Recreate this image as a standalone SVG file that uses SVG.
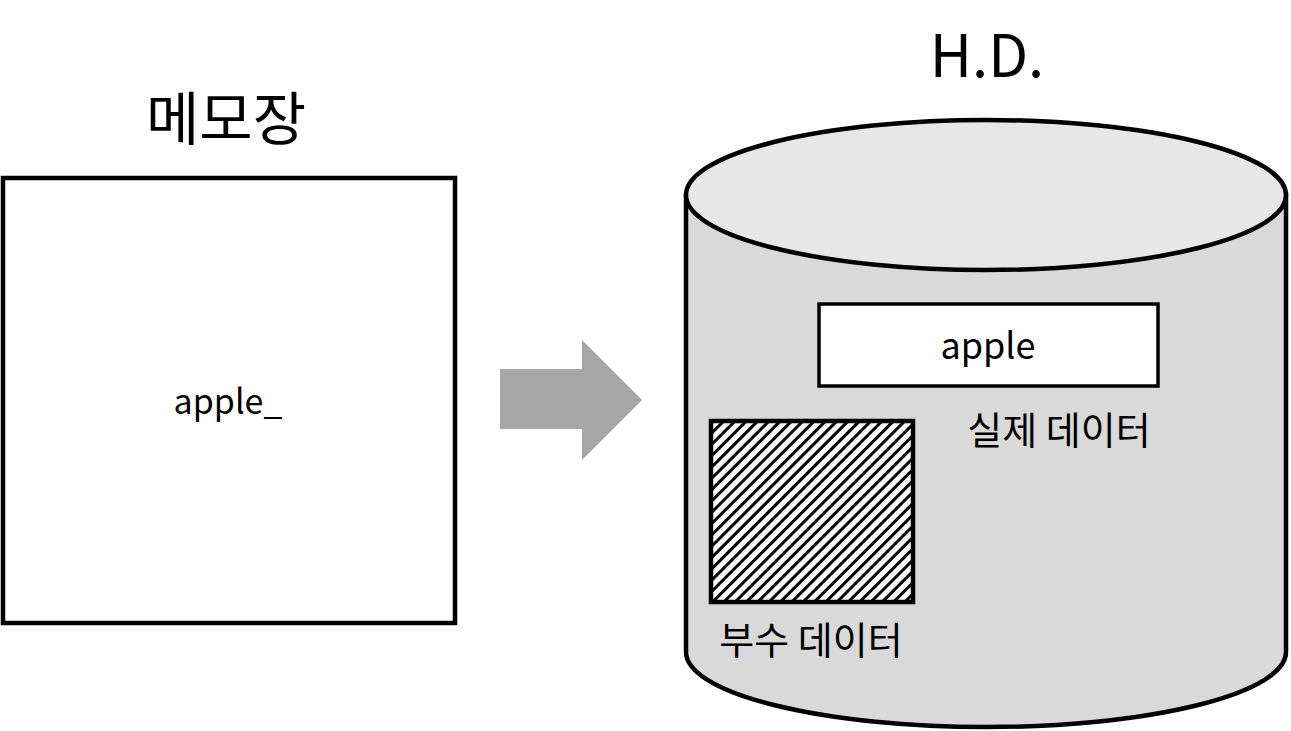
<svg xmlns="http://www.w3.org/2000/svg" width="1291" height="731" viewBox="0 0 1291 731">
<style>
text{font-family:"Noto Sans CJK KR","Noto Sans",sans-serif;fill:#000;text-anchor:middle}
.lbl{font-size:38px}
.title{font-size:58px}
.stk{stroke:#000;stroke-width:4.5}
</style>
<defs>
<pattern id="hatch" patternUnits="userSpaceOnUse" width="8" height="8" patternTransform="rotate(45)">
<rect width="8" height="8" fill="#fff"/>
<rect x="0" y="0" width="3" height="8" fill="#000"/>
</pattern>
</defs>
<rect width="1291" height="731" fill="#fff"/>
<g id="notepad">
<text class="title" x="226" y="140">메모장</text>
<rect class="stk" x="3" y="178" width="452" height="445" fill="#fff"/>
<text x="228" y="414" style="font-size:34px">apple_</text>
</g>
<g id="connectors">
<polygon points="500,369 582,369 582,340 642,400 582,460 582,429 500,429" fill="#a6a6a6"/>
</g>
<g id="hd">
<text class="title" x="987" y="77">H.D.</text>
<path class="stk" d="M686,195 L686,652 A300,75 0 0 0 1286,652 L1286,195 Z" fill="#d9d9d9"/>
<ellipse class="stk" cx="986" cy="195" rx="300" ry="75" fill="#e7e7e7"/>
</g>
<g id="real-data">
<rect x="819" y="304" width="339" height="82" fill="#fff" stroke="#000" stroke-width="3.5"/>
<text x="988" y="359" style="font-size:36px">apple</text>
<text class="lbl" x="1059" y="444">실제 데이터</text>
</g>
<g id="meta-data">
<rect class="stk" x="711" y="421" width="202" height="181" fill="url(#hatch)"/>
<text class="lbl" x="811" y="654">부수 데이터</text>
</g>
</svg>
